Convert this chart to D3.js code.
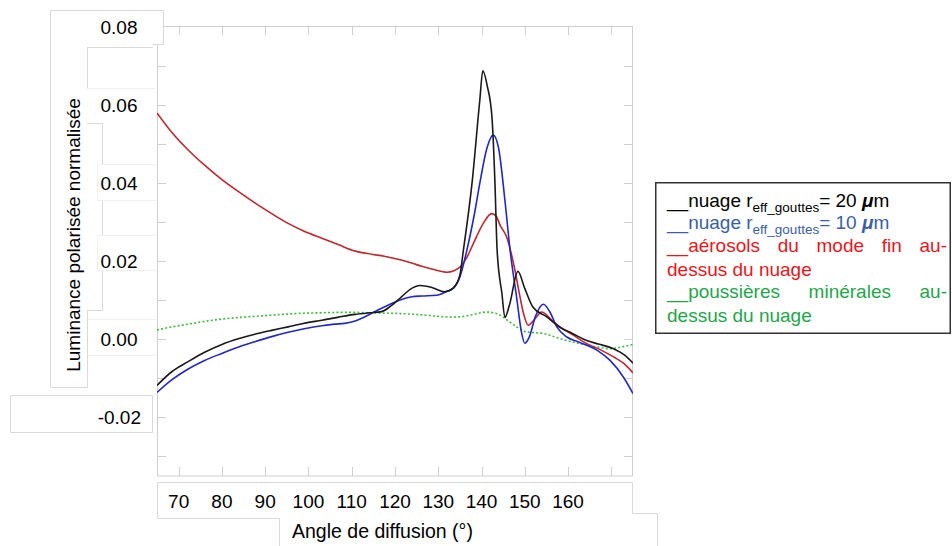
<!DOCTYPE html>
<html><head><meta charset="utf-8">
<script src="https://cdn.jsdelivr.net/npm/d3@7"></script>
<style>
body{margin:0;background:#fff}
svg{display:block}
text{font-family:"Liberation Sans",Arial,Helvetica,sans-serif}
</style>
</head><body>
<svg id="c" width="952" height="546"></svg>
<script>
// ---------- data ----------
const xTickValues = [70, 80, 90, 100, 110, 120, 130, 140, 150, 160, 170];
const xTickLabels = ["70", "80", "90", "100", "110", "120", "130", "140", "150", "160"];
const yTickValues = [-0.03, -0.02, -0.01, 0.00, 0.01, 0.02, 0.03, 0.04, 0.05, 0.06, 0.07];
const yTickLabels = ["0.08", "0.06", "0.04", "0.02", "0.00", "-0.02"];
const yTickLabelValues = [0.08, 0.06, 0.04, 0.02, 0.00, -0.02];

// nuage r_eff = 20 µm (black)
const cloud20 = [
  [65,-0.0118],[68.4,-0.0083],[72.2,-0.0057],[76,-0.0033],[80,-0.0013],[84,0.0002],[87.6,0.0013],
  [91.5,0.0023],[95.3,0.0032],[99,0.0041],[103.1,0.0049],[107,0.0057],[110.8,0.0064],[114,0.0068],
  [116.9,0.0071],[119,0.0085],[121.5,0.0109],[123.5,0.0128],[125.8,0.0138],[128.5,0.0133],
  [131.5,0.0122],[133.5,0.0132],[135,0.0165],[135.8,0.0228],[137.8,0.0400],[139.6,0.0613],
  [140.3,0.0688],[141.3,0.0650],[142.4,0.0570],[143.1,0.0400],[143.6,0.0228],[144.7,0.0118],
  [145.4,0.0056],[146.5,0.0090],[148.4,0.0174],[150,0.0130],[151.9,0.0082],[155,0.0058],
  [158.1,0.0031],[161,0.0015],[164.3,-0.0003],[167,-0.0012],[170.5,-0.0024],[173,-0.0040],[175,-0.0061]
];
// nuage r_eff = 10 µm (blue)
const cloud10 = [
  [65,-0.0136],[68.4,-0.0104],[72.2,-0.0076],[76,-0.0054],[80,-0.0036],[84,-0.0019],[87.6,-0.0006],
  [91.5,0.0007],[95.3,0.0018],[99,0.0027],[103.1,0.0035],[106,0.0039],[108.4,0.0041],[110.8,0.0047],
  [112.7,0.0056],[114.6,0.0067],[118.5,0.0088],[121,0.0100],[123.9,0.0109],[126.2,0.0111],[129.6,0.0113],
  [132,0.0123],[133.5,0.0131],[135,0.0160],[136.6,0.0228],[138.5,0.0330],[139.6,0.0400],[141.3,0.0492],
  [142.7,0.0523],[143.9,0.0492],[145.4,0.0356],[146.6,0.0228],[148.1,0.0108],[149.2,0.0020],
  [150,-0.0010],[151,0.0005],[152.5,0.0060],[154.3,0.0090],[155.8,0.0070],[157.4,0.0032],
  [159.7,0.0006],[162,-0.0005],[164.3,-0.0015],[167,-0.0030],[169.7,-0.0054],[172.8,-0.0097],[175,-0.0139]
];
// aérosols du mode fin (red)
const fineAerosols = [
  [65,0.0580],[68.5,0.0529],[72.2,0.0485],[76,0.0446],[80,0.0409],[84,0.0377],[87.7,0.0349],
  [91.5,0.0322],[95.3,0.0297],[99,0.0277],[103.1,0.0259],[107,0.0242],[110.8,0.0226],[114.6,0.0218],
  [117.5,0.0213],[121.2,0.0204],[124,0.0195],[126.2,0.0187],[129,0.0179],[132,0.0172],[135,0.0185],
  [136.6,0.0210],[138.1,0.0245],[140.4,0.0297],[142.3,0.0322],[143.4,0.0315],[144.3,0.0292],
  [145.8,0.0262],[147.4,0.0194],[148.9,0.0108],[149.7,0.0066],[150.8,0.0036],[152.3,0.0052],
  [153.9,0.0070],[156,0.0052],[158.1,0.0032],[161,0.0012],[164.3,-0.0011],[167.5,-0.0027],
  [170.5,-0.0045],[173,-0.0063],[175,-0.0086]
];
// poussières minérales (green, dotted)
const mineralDust = [
  [65,0.0024],[68.5,0.0032],[72.2,0.0039],[76,0.0046],[80,0.0052],[84,0.0056],[87.7,0.0059],
  [91.5,0.0062],[95.3,0.0065],[99,0.0067],[103.1,0.0068],[107,0.0069],[110.8,0.0069],[114.6,0.0068],
  [118.4,0.0067],[121.2,0.0066],[124.6,0.0064],[128,0.0061],[131,0.0058],[133.5,0.0057],[136.5,0.0060],
  [139,0.0066],[141.2,0.0070],[142.8,0.0068],[144.3,0.0062],[146.2,0.0047],[148.1,0.0032],
  [150.4,0.0019],[152.5,0.0017],[154.3,0.0015],[157,0.0006],[159.7,-0.0003],[162,-0.0009],
  [164.3,-0.0015],[167,-0.0020],[169.7,-0.0024],[172.5,-0.0019],[175,-0.0013]
];

const legendLines = [
  {kind:"sub", main:"__nuage r", sub:"eff_gouttes", tail:"= 20 ", mu:"\u03bc", unit:"m", color:"#000000"},
  {kind:"sub", main:"__nuage r", sub:"eff_gouttes", tail:"= 10 ", mu:"\u03bc", unit:"m", color:"#3a5ea8"},
  {kind:"just", words:["__aérosols","du","mode","fin","au-"], color:"#e8161c"},
  {kind:"plain", text:"dessus du nuage", color:"#e8161c"},
  {kind:"just", words:["__poussières","minérales","au-"], color:"#1ea64b"},
  {kind:"plain", text:"dessus du nuage", color:"#1ea64b"}
];
const xAxisTitle = "Angle de diffusion (°)";
const yAxisTitle = "Luminance polarisée normalisée";

// ---------- drawing ----------
const svg = d3.select("#c");
const x = d3.scaleLinear().domain([65, 175]).range([157, 633]);
const y = d3.scaleLinear().domain([-0.035, 0.08]).range([476, 27]);
const frameCol = "#cfcfcf";

// plot frame
svg.append("rect").attr("x", 157.5).attr("y", 26.5).attr("width", 475).attr("height", 449.5)
  .attr("fill", "#fff").attr("stroke", frameCol).attr("stroke-width", 1);

// inward ticks on four sides
const tl = 9;
const g = svg.append("g").attr("stroke", frameCol).attr("stroke-width", 1);
xTickValues.forEach(v => {
  const xx = Math.round(x(v)) + 0.5;
  g.append("line").attr("x1", xx).attr("x2", xx).attr("y1", 476).attr("y2", 476 - tl);
  g.append("line").attr("x1", xx).attr("x2", xx).attr("y1", 26).attr("y2", 26 + tl);
});
yTickValues.forEach(v => {
  const yy = Math.round(y(v)) + 0.5;
  g.append("line").attr("x1", 157).attr("x2", 157 + tl).attr("y1", yy).attr("y2", yy);
  g.append("line").attr("x1", 633).attr("x2", 633 - tl).attr("y1", yy).attr("y2", yy);
});

// curves
const line = d3.line().x(d => x(d[0])).y(d => y(d[1])).curve(d3.curveMonotoneX);
svg.append("clipPath").attr("id", "pc").append("rect")
  .attr("x", 157).attr("y", 26).attr("width", 476).attr("height", 450);
const curves = svg.append("g").attr("clip-path", "url(#pc)").attr("fill", "none");
curves.append("path").datum(mineralDust).attr("d", line)
  .attr("stroke", "#3dbb3d").attr("stroke-width", 1.6).attr("stroke-dasharray", "2,2.2");
curves.append("path").datum(fineAerosols).attr("d", line)
  .attr("stroke", "#c0262c").attr("stroke-width", 1.6);
curves.append("path").datum(cloud10).attr("d", line)
  .attr("stroke", "#2228c8").attr("stroke-width", 1.6);
curves.append("path").datum(cloud20).attr("d", line)
  .attr("stroke", "#1a1a1a").attr("stroke-width", 1.6);

// white label boxes (pasted over the original axis labels)
function box(x0, y0, w, h) {
  svg.append("rect").attr("x", x0).attr("y", y0).attr("width", w).attr("height", h).attr("fill", "#fff");
}
box(50, 10, 37, 377);      // y title box
box(50, 10, 113, 34);      // 0.08
box(87, 88, 68, 36);       // 0.06
box(97, 124, 59, 186);     // 0.04 / 0.02 column
box(87, 310, 69, 77);      // 0.00
box(10, 395, 142, 37);     // -0.02
box(279, 513, 378, 40);    // x title box
box(157, 482, 475, 36);    // x tick labels

const strongBorders = [
  [[50.5,10],[50.5,387.5],[87.5,387.5],[87.5,310]],
  [[87.5,47],[87.5,88]],
  [[50,10.5],[163.5,10.5],[163.5,44.5],[153,44.5]],
  [[153,47.5],[87,47.5]],
  [[87,123.5],[102.5,123.5],[102.5,164]],
  [[102.5,200.5],[102.5,235.5]],
  [[102.5,270.5],[102.5,310.5],[87.5,310.5]],
  [[10.5,395.5],[152.5,395.5],[152.5,432.5],[10.5,432.5],[10.5,395.5]],
  [[157.5,482.5],[632.5,482.5],[632.5,513.5],[657.5,513.5],[657.5,546]],
  [[157.5,482.5],[157.5,518.5],[279.5,518.5],[279.5,546]]
];
const faintBorders = [
  [[87,88.5],[155,88.5]],
  [[97.5,164.5],[156,164.5]],
  [[97.5,164.5],[97.5,200.5],[156,200.5]],
  [[97.5,235.5],[156,235.5]],
  [[97.5,235.5],[97.5,270.5],[156,270.5]],
  [[88,319.5],[156,319.5]],
  [[88,355.5],[156,355.5]]
];
const bl = d3.line();
strongBorders.forEach(b => svg.append("path").attr("d", bl(b)).attr("fill", "none")
  .attr("stroke", "#d9d9d9").attr("stroke-width", 1));
faintBorders.forEach(b => svg.append("path").attr("d", bl(b)).attr("fill", "none")
  .attr("stroke", "#f0f0f0").attr("stroke-width", 1));

// y tick labels
yTickLabelValues.forEach((v, i) => {
  svg.append("text").attr("x", i === 5 ? 141 : 137.5).attr("y", y(v) + 7)
    .attr("text-anchor", "end").attr("font-size", 19).attr("fill", "#000").text(yTickLabels[i]);
});
// x tick labels
xTickLabels.forEach((lab, i) => {
  svg.append("text").attr("x", x(xTickValues[i])).attr("y", 508)
    .attr("text-anchor", "middle").attr("font-size", 19).attr("fill", "#000").text(lab);
});
// axis titles
svg.append("text").attr("x", 292).attr("y", 538).attr("font-size", 19.5).attr("fill", "#000").text(xAxisTitle);
svg.append("text").attr("transform", "translate(80,235) rotate(-90)").attr("text-anchor", "middle")
  .attr("font-size", 19).attr("fill", "#000").text(yAxisTitle);

// legend
svg.append("rect").attr("x", 655.75).attr("y", 182.75).attr("width", 294.5).attr("height", 150.5)
  .attr("fill", "#fff").attr("stroke", "#333").attr("stroke-width", 1.5);
const lx0 = 667, lx1 = 947, fs = 19;
const baselines = [207, 229, 252, 276, 298, 322];
legendLines.forEach((L, i) => {
  const by = baselines[i];
  if (L.kind === "sub") {
    const t = svg.append("text").attr("x", lx0).attr("y", by).attr("font-size", fs).attr("fill", L.color);
    t.append("tspan").text(L.main);
    t.append("tspan").attr("font-size", 13.5).attr("dy", 5).text(L.sub);
    t.append("tspan").attr("font-size", fs).attr("dy", -5).text(L.tail);
    t.append("tspan").attr("font-weight", "bold").attr("font-style", "italic").text(L.mu);
    t.append("tspan").text(L.unit);
  } else if (L.kind === "plain") {
    svg.append("text").attr("x", lx0).attr("y", by).attr("font-size", fs).attr("fill", L.color).text(L.text);
  } else {
    const nodes = L.words.map(w => svg.append("text").attr("y", by).attr("font-size", fs)
      .attr("fill", L.color).text(w));
    const widths = nodes.map(n => n.node().getComputedTextLength());
    const total = d3.sum(widths);
    const gap = (lx1 - lx0 - total) / (nodes.length - 1);
    let cx = lx0;
    nodes.forEach((n, k) => { n.attr("x", cx); cx += widths[k] + gap; });
  }
});
</script>
</body></html>
